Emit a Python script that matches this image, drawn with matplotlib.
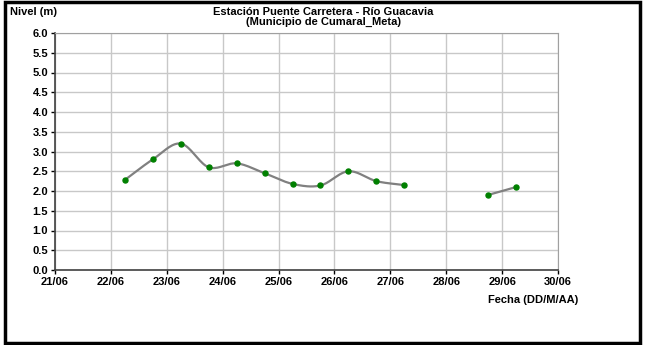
import matplotlib
matplotlib.use("Agg")
import matplotlib.pyplot as plt
import matplotlib.dates as mdates
from matplotlib.patches import Rectangle
import numpy as np
from datetime import datetime

# readings (date-time, level in m); two separate runs with a gap
fechas_a = ["2011-06-22 06:00", "2011-06-22 18:00", "2011-06-23 06:00", "2011-06-23 18:00",
            "2011-06-24 06:00", "2011-06-24 18:00", "2011-06-25 06:00", "2011-06-25 18:00",
            "2011-06-26 06:00", "2011-06-26 18:00", "2011-06-27 06:00"]
nivel_a = [2.28, 2.80, 3.20, 2.60, 2.70, 2.45, 2.18, 2.14, 2.50, 2.25, 2.15]
fechas_b = ["2011-06-28 18:00", "2011-06-29 06:00"]
nivel_b = [1.90, 2.10]

plt.rcParams['font.family'] = ['Liberation Sans', 'DejaVu Sans']
plt.rcParams['font.weight'] = 'bold'


def smooth(x, y, n=20):
    # catmull-rom path through the points, like Excel's smoothed line
    x = np.asarray(x, float)
    y = np.asarray(y, float)
    if len(x) < 3:
        return x, y
    px = np.concatenate([[2 * x[0] - x[1]], x, [2 * x[-1] - x[-2]]])
    py = np.concatenate([[2 * y[0] - y[1]], y, [2 * y[-1] - y[-2]]])
    xs, ys = [], []
    t = np.linspace(0, 1, n)
    for i in range(1, len(px) - 2):
        for p, out in ((px, xs), (py, ys)):
            p0, p1, p2, p3 = p[i - 1], p[i], p[i + 1], p[i + 2]
            out.extend(0.5 * (2 * p1 + (-p0 + p2) * t
                              + (2 * p0 - 5 * p1 + 4 * p2 - p3) * t ** 2
                              + (-p0 + 3 * p1 - 3 * p2 + p3) * t ** 3))
    return np.array(xs), np.array(ys)


fig = plt.figure(figsize=(6.45, 3.45), dpi=100)
ax = fig.add_axes([55 / 645, 1 - 270 / 345, 503 / 645, 237 / 345])

for f, v in ((fechas_a, nivel_a), (fechas_b, nivel_b)):
    d = mdates.date2num([datetime.strptime(s, "%Y-%m-%d %H:%M") for s in f])
    sx, sy = smooth(d, v)
    ax.plot(sx, sy, color='#808080', lw=1.6, zorder=3)
    ax.plot(d, v, 'o', color='#008000', ms=3.6, zorder=4)

ax.set_xlim(mdates.date2num(datetime(2011, 6, 21)), mdates.date2num(datetime(2011, 6, 30)))
ax.set_ylim(0, 6)
ax.set_yticks(np.arange(0, 6.01, 0.5))
ax.yaxis.set_major_formatter(plt.FuncFormatter(lambda v, p: f"{v:.1f}"))
ax.xaxis.set_major_locator(mdates.DayLocator())
ax.xaxis.set_major_formatter(mdates.DateFormatter("%d/%m"))
ax.tick_params(labelsize=8, length=3, width=1, pad=2)
ax.grid(True, color='#c8c8c8', lw=1)
ax.set_axisbelow(True)
for s in ('top', 'right'):
    ax.spines[s].set_color('#a0a0a0')
for s in ('left', 'bottom'):
    ax.spines[s].set_color('#404040')
    ax.spines[s].set_linewidth(1.2)

fig.text(10 / 645, 1 - 12 / 345, "Nivel (m)", fontsize=8, fontweight='bold', va='center')
fig.text(578 / 645, 1 - 300 / 345, "Fecha (DD/M/AA)", fontsize=8, fontweight='bold',
         ha='right', va='center')
fig.text(323 / 645, 1 - 17 / 345, "Estación Puente Carretera - Río Guacavia\n(Municipio de Cumaral_Meta)",
         fontsize=8, fontweight='bold', ha='center', va='center', linespacing=0.95)

fig.patches.append(Rectangle((5 / 645, 2 / 345), 635 / 645, 341 / 345, transform=fig.transFigure,
                             fill=False, edgecolor='black', lw=2.5))

fig.savefig("out.png", dpi=100)
